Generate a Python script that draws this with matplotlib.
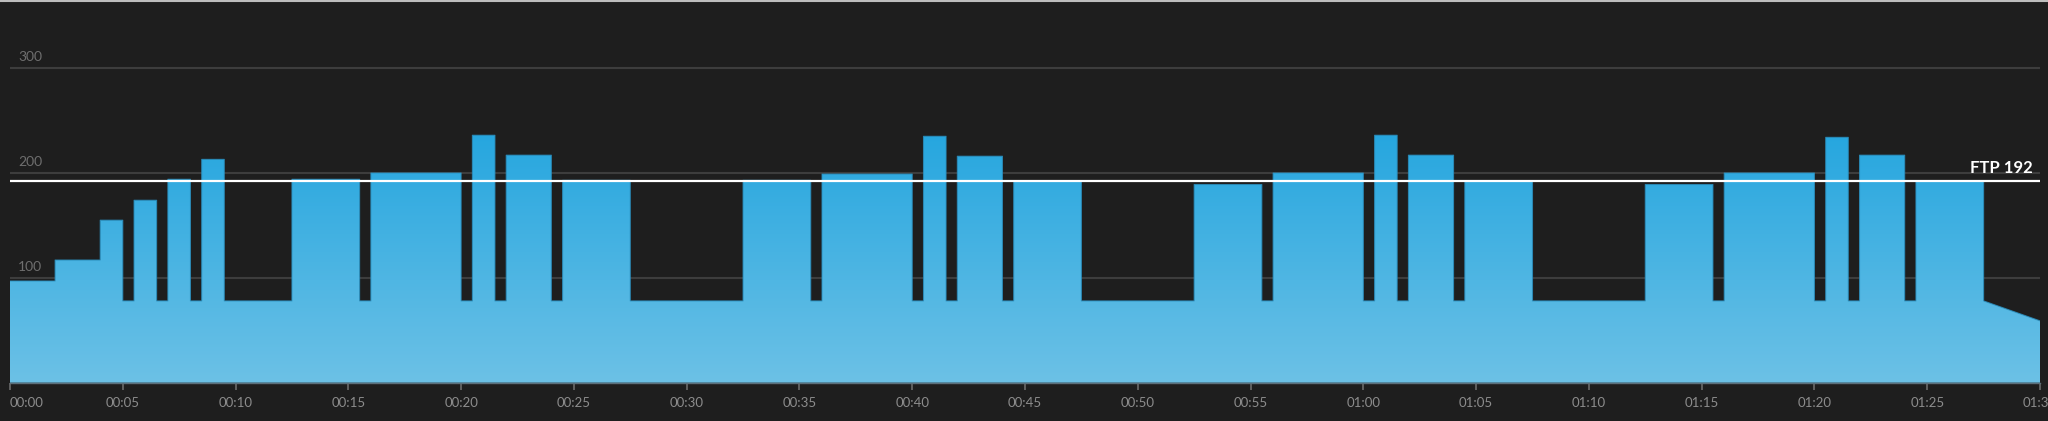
import numpy as np
import matplotlib
matplotlib.use('Agg')
import matplotlib.pyplot as plt
from matplotlib.colors import LinearSegmentedColormap
from matplotlib.patches import Polygon
from matplotlib.lines import Line2D

plt.rcParams['font.family'] = ['Lato', 'DejaVu Sans']

# workout blocks: length in minutes and target power in watts
seg_minutes = [2.0, 2.0, 1.0, 0.5, 1.0, 0.5, 1.0, 0.5, 1.0, 3.0,
               3.0, 0.5, 4.0, 0.5, 1.0, 0.5, 2.0, 0.5, 3.0, 5.0,
               3.0, 0.5, 4.0, 0.5, 1.0, 0.5, 2.0, 0.5, 3.0, 5.0,
               3.0, 0.5, 4.0, 0.5, 1.0, 0.5, 2.0, 0.5, 3.0, 5.0,
               3.0, 0.5, 4.0, 0.5, 1.0, 0.5, 2.0, 0.5, 3.0]
seg_watts = [97, 117, 155, 78, 174, 78, 194, 78, 213, 78,
             194, 78, 200, 78, 236, 78, 217, 78, 193, 78,
             193, 78, 199, 78, 235, 78, 216, 78, 192, 78,
             189, 78, 200, 78, 236, 78, 217, 78, 192, 78,
             189, 78, 200, 78, 234, 78, 217, 78, 192]
# cool down ramp at the end
ramp_minutes = [87.5, 90.0]
ramp_watts = [78, 59]

ftp = 192
grid_values = [100, 200, 300]
tick_minutes = list(range(0, 91, 5))
tick_labels = ['%02d:%02d' % (m // 60, m % 60) for m in tick_minutes]

bg = '#1e1e1e'

fig = plt.figure(figsize=(20.48, 4.21), dpi=100, facecolor=bg)
ax = fig.add_axes([10 / 2048, 38.3 / 421, 2030 / 2048, 382.7 / 421])
ax.set_facecolor(bg)
ax.set_xlim(0, 90)
ax.set_ylim(0, 365)

# gridlines with their labels
for v in grid_values:
    ax.axhline(v, color='#3d3d3d', lw=1.5, zorder=0)
    ax.annotate(str(v), xy=(0, v), xycoords=('axes fraction', 'data'),
                xytext=(8, 11), textcoords='offset pixels',
                ha='left', va='center', color='#6e6e6e', fontsize=10)

# step outline of the workout
edges = np.concatenate([[0], np.cumsum(seg_minutes)])
xs = np.repeat(edges, 2)[1:-1]
ys = np.repeat(seg_watts, 2)
xs = np.concatenate([xs, ramp_minutes])
ys = np.concatenate([ys, ramp_watts])

verts = [(0, 0)] + list(zip(xs, ys)) + [(90, 0)]
poly = Polygon(verts, closed=True, facecolor='none', edgecolor='none')
ax.add_patch(poly)

cmap = LinearSegmentedColormap.from_list('pw', ['#6cc1e6', '#25a6df'])
grad = np.linspace(0, 1, 256).reshape(-1, 1)
img = ax.imshow(grad, cmap=cmap, origin='lower', aspect='auto',
                extent=[0, 90, 0, 240], zorder=2, interpolation='bilinear')
img.set_clip_path(poly)

ax.plot(xs, ys, color='#2a90c0', lw=0.8, zorder=3, alpha=0.8)

# FTP line
ax.axhline(ftp, color='white', lw=1.6, zorder=4)
ax.annotate('FTP %d' % ftp, xy=(1, ftp), xycoords=('axes fraction', 'data'),
            xytext=(-7, 5), textcoords='offset pixels',
            ha='right', va='bottom', color='white', fontsize=12,
            fontweight='bold', zorder=5)

ax.set_xticks(tick_minutes)
ax.set_xticklabels(tick_labels)
ax.set_yticks([])
ax.tick_params(axis='x', direction='out', length=5, width=1.2,
               color='#6a6a6a', labelcolor='#8c8c8c', labelsize=9.5, pad=5)
ax.get_xticklabels()[0].set_horizontalalignment('left')

for s in ['top', 'left', 'right']:
    ax.spines[s].set_visible(False)
ax.spines['bottom'].set_color('#5c6f7a')
ax.spines['bottom'].set_linewidth(1)
ax.spines['bottom'].set_zorder(6)

# thin light border at the very top
fig.add_artist(Line2D([0, 1], [1 - 1 / 421, 1 - 1 / 421], color='#bdbdbd', lw=1.5,
                      transform=fig.transFigure))

fig.savefig('out.png', dpi=100, facecolor=bg)
